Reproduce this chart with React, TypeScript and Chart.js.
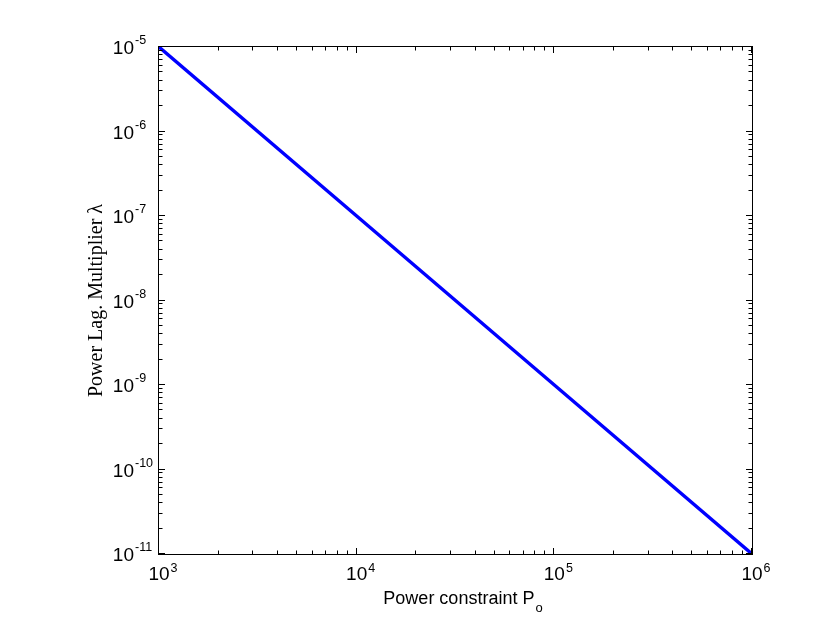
import React, { useEffect, useRef } from "react";
import { Chart, registerables } from "chart.js";

Chart.register(...registerables);

// Data (log-log straight line)
const powerConstraint = [1e3, 1e4, 1e5, 1e6];
const lagMultiplier = [1e-5, 1e-7, 1e-9, 1e-11];

// Axis tick decades (exponents)
const xExponents = [3, 4, 5, 6];
const yExponents = [-11, -10, -9, -8, -7, -6, -5];
const minorMultipliers = [2, 3, 4, 5, 6, 7, 8, 9];

const xTitle = "Power constraint P";
const xTitleSub = "o";
const yTitle = "Power Lag. Multiplier λ";

const SANS = "Arial, 'Liberation Sans', Helvetica, sans-serif";
const SERIF = "'Liberation Serif', 'Times New Roman', serif";

const axesPlugin = {
  id: "matlabAxes",
  afterDraw(chart: any) {
    const ctx = chart.ctx as CanvasRenderingContext2D;
    const xs = chart.scales.x;
    const ys = chart.scales.y;
    const { left, right, top, bottom } = chart.chartArea;
    const majorLen = 6;
    const minorLen = 3.5;
    ctx.save();
    ctx.strokeStyle = "#000";
    ctx.lineWidth = 1;

    // box
    ctx.strokeRect(Math.round(left) - 0.5, Math.round(top) - 0.5, Math.round(right - left) + 1, Math.round(bottom - top) + 1);

    const line = (x1: number, y1: number, x2: number, y2: number) => {
      ctx.beginPath();
      ctx.moveTo(x1, y1);
      ctx.lineTo(x2, y2);
      ctx.stroke();
    };

    // x ticks
    xExponents.forEach((e, i) => {
      const px = Math.round(xs.getPixelForValue(Math.pow(10, e))) - 0.5;
      line(px, bottom, px, bottom - majorLen);
      line(px, top, px, top + majorLen);
      if (i < xExponents.length - 1) {
        minorMultipliers.forEach((m) => {
          const mx = Math.round(xs.getPixelForValue(m * Math.pow(10, e))) - 0.5;
          line(mx, bottom, mx, bottom - minorLen);
          line(mx, top, mx, top + minorLen);
        });
      }
    });
    // y ticks
    yExponents.forEach((e, i) => {
      const py = Math.round(ys.getPixelForValue(Math.pow(10, e))) - 0.5;
      line(left, py, left + majorLen, py);
      line(right, py, right - majorLen, py);
      if (i < yExponents.length - 1) {
        minorMultipliers.forEach((m) => {
          const my = Math.round(ys.getPixelForValue(m * Math.pow(10, e))) - 0.5;
          line(left, my, left + minorLen, my);
          line(right, my, right - minorLen, my);
        });
      }
    });

    ctx.fillStyle = "#000";
    // x tick labels
    xExponents.forEach((e) => {
      const px = xs.getPixelForValue(Math.pow(10, e));
      ctx.font = `19px ${SANS}`;
      ctx.textAlign = "center";
      ctx.textBaseline = "alphabetic";
      ctx.fillText("10", px, bottom + 26);
      const w = ctx.measureText("10").width;
      ctx.font = `12.5px ${SANS}`;
      ctx.textAlign = "left";
      ctx.fillText(String(e), px + w / 2 + 1, bottom + 18);
    });
    // y tick labels
    yExponents.forEach((e) => {
      const py = ys.getPixelForValue(Math.pow(10, e));
      ctx.font = `19px ${SANS}`;
      ctx.textAlign = "right";
      ctx.textBaseline = "alphabetic";
      ctx.fillText("10", left - 25, py + 7);
      ctx.font = `12.5px ${SANS}`;
      ctx.textAlign = "left";
      ctx.fillText(e < 0 ? "-" + String(-e) : String(e), left - 24, py - 3);
    });

    // x title
    ctx.font = `18px ${SANS}`;
    const tw = ctx.measureText(xTitle).width;
    ctx.font = `13px ${SANS}`;
    const sw = ctx.measureText(xTitleSub).width;
    const cx = (left + right) / 2 + 7;
    const startX = cx - (tw + sw) / 2;
    ctx.font = `18px ${SANS}`;
    ctx.textAlign = "left";
    ctx.fillText(xTitle, startX, bottom + 50);
    ctx.font = `13px ${SANS}`;
    ctx.fillText(xTitleSub, startX + tw + 1, bottom + 58);

    // y title
    ctx.save();
    ctx.translate(left - 57, (top + bottom) / 2);
    ctx.rotate(-Math.PI / 2);
    ctx.font = `20px ${SERIF}`;
    ctx.textAlign = "center";
    ctx.textBaseline = "alphabetic";
    ctx.fillText(yTitle, 0, 0);
    ctx.restore();

    ctx.restore();
  },
};

export default function App() {
  const canvasRef = useRef<HTMLCanvasElement | null>(null);
  useEffect(() => {
    const canvas = canvasRef.current;
    if (!canvas) return;
    const chart = new Chart(canvas, {
      type: "line",
      data: {
        datasets: [
          {
            data: powerConstraint.map((x, i) => ({ x, y: lagMultiplier[i] })),
            borderColor: "#0000ff",
            borderWidth: 3.4,
            pointRadius: 0,
            fill: false,
            tension: 0,
          },
        ],
      },
      options: {
        responsive: false,
        animation: false,
        devicePixelRatio: 1,
        layout: { padding: { left: 159, right: 78, top: 47, bottom: 69 } },
        plugins: { legend: { display: false }, tooltip: { enabled: false } },
        scales: {
          x: { type: "logarithmic", min: 1e3, max: 1e6, display: false },
          y: { type: "logarithmic", min: 1e-11, max: 1e-5, display: false },
        },
      },
      plugins: [axesPlugin],
    });
    return () => chart.destroy();
  }, []);
  return (
    <div style={{ position: "fixed", left: 0, top: 0, width: 830, height: 623, background: "#fff" }}>
      <canvas ref={canvasRef} width={830} height={623} style={{ width: 830, height: 623, display: "block" }} />
    </div>
  );
}
